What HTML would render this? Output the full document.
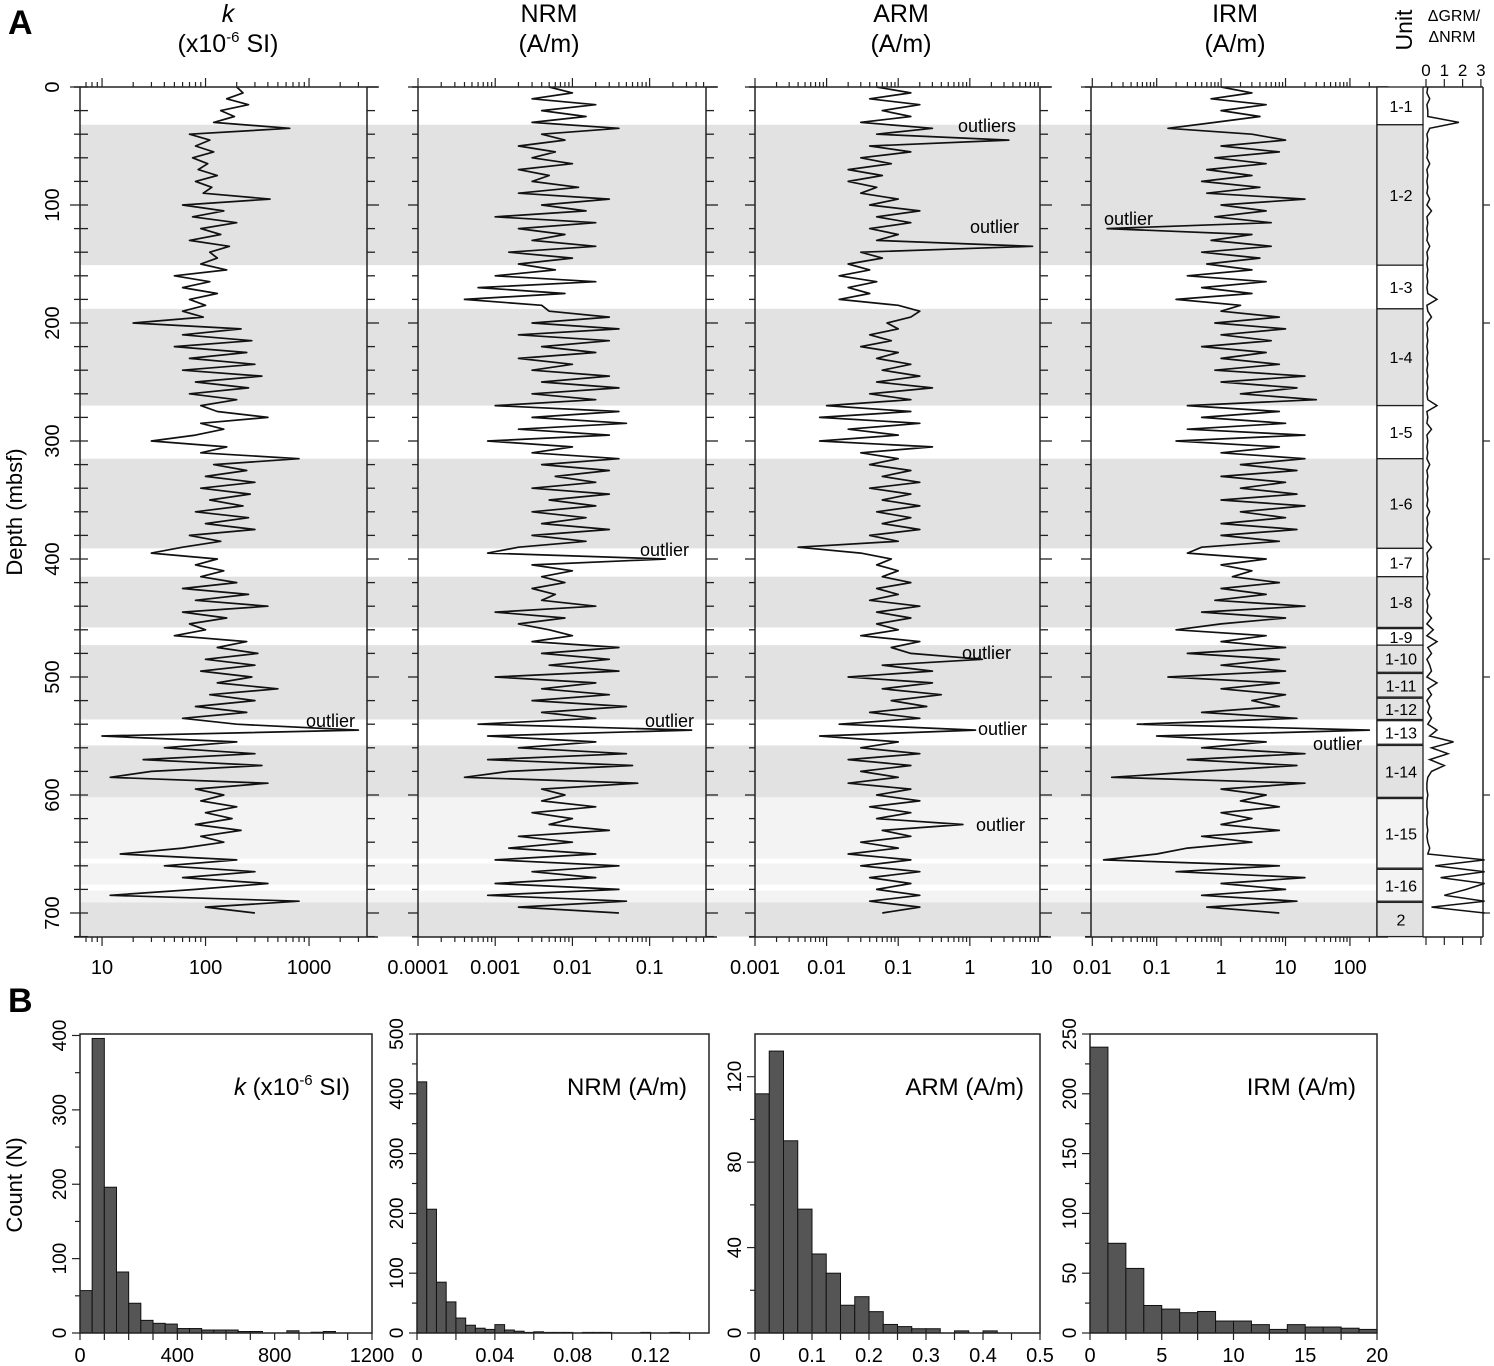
<!DOCTYPE html>
<html><head><meta charset="utf-8">
<style>
html,body{margin:0;padding:0;background:#fff;}
svg{display:block;font-family:"Liberation Sans",Arial,sans-serif;}
</style></head>
<body>
<svg id="fig" width="1494" height="1366" viewBox="0 0 1494 1366" xmlns="http://www.w3.org/2000/svg">
<g id="bands"></g>
<g id="logs"></g>
<g id="hists"></g>
<text x="8" y="34" font-size="34" font-weight="bold">A</text>
<text x="8" y="1012" font-size="34" font-weight="bold">B</text>
<text transform="translate(22,512) rotate(-90)" text-anchor="middle" font-size="22">Depth (mbsf)</text>
<text transform="translate(22,1185) rotate(-90)" text-anchor="middle" font-size="22">Count (N)</text>
<g font-size="25" text-anchor="middle">
<text x="228" y="22" font-style="italic">k</text>
<text x="228" y="52">(x10<tspan font-size="15" dy="-10">-6</tspan><tspan dy="10"> SI)</tspan></text>
<text x="549" y="22">NRM</text>
<text x="549" y="52">(A/m)</text>
<text x="901" y="22">ARM</text>
<text x="901" y="52">(A/m)</text>
<text x="1235" y="22">IRM</text>
<text x="1235" y="52">(A/m)</text>
</g>
<text transform="translate(1412,30) rotate(-90)" text-anchor="middle" font-size="23">Unit</text>
<text x="1454" y="21" text-anchor="middle" font-size="16">ΔGRM/</text>
<text x="1452" y="42" text-anchor="middle" font-size="16">ΔNRM</text>
</svg>
<script>
const NS='http://www.w3.org/2000/svg';
// depth grid (m) shared by all logs
const depths=[];for(let i=0;i<=140;i++)depths.push(i*5);
const kVals=[200,230,160,260,140,190,120,650,70,110,80,120,75,105,85,130,80,115,95,420,60,150,75,200,90,140,70,170,110,130,90,160,50,110,60,130,70,100,60,95,20,220,60,280,50,250,70,300,60,350,80,260,70,200,90,130,400,90,150,80,30,160,90,800,120,250,100,300,90,270,110,230,80,260,100,300,70,140,60,30,130,80,150,90,200,60,260,80,400,60,160,70,100,50,250,130,320,100,300,90,280,130,500,110,300,80,250,60,200,3000,10,200,40,300,25,350,30,12,400,80,150,90,200,100,180,80,220,90,150,60,15,200,40,300,60,400,80,12,800,100,300];
const nrmVals=[0.005,0.01,0.003,0.02,0.004,0.015,0.003,0.04,0.004,0.008,0.002,0.006,0.003,0.01,0.002,0.005,0.003,0.012,0.002,0.03,0.004,0.015,0.001,0.02,0.002,0.008,0.003,0.02,0.0015,0.01,0.002,0.006,0.001,0.02,0.0006,0.008,0.0004,0.004,0.005,0.03,0.003,0.04,0.002,0.03,0.004,0.02,0.002,0.01,0.003,0.03,0.004,0.04,0.003,0.02,0.001,0.04,0.003,0.05,0.002,0.03,0.0008,0.01,0.003,0.04,0.004,0.03,0.006,0.02,0.003,0.03,0.005,0.02,0.003,0.015,0.004,0.03,0.003,0.015,0.002,0.0008,0.16,0.003,0.01,0.004,0.008,0.003,0.006,0.004,0.02,0.001,0.008,0.002,0.005,0.01,0.003,0.04,0.004,0.03,0.005,0.04,0.001,0.02,0.004,0.03,0.003,0.05,0.004,0.02,0.0006,0.35,0.0008,0.02,0.002,0.05,0.0008,0.06,0.0015,0.0004,0.07,0.004,0.008,0.004,0.02,0.003,0.01,0.005,0.03,0.002,0.01,0.0015,0.02,0.001,0.04,0.003,0.02,0.001,0.04,0.0008,0.05,0.002,0.04];
const armVals=[0.05,0.15,0.04,0.2,0.06,0.15,0.03,0.3,0.05,3.5,0.04,0.15,0.03,0.08,0.02,0.06,0.02,0.05,0.03,0.1,0.04,0.2,0.05,0.15,0.04,0.1,0.05,7.5,0.03,0.06,0.02,0.04,0.015,0.05,0.02,0.04,0.015,0.1,0.2,0.15,0.07,0.1,0.04,0.08,0.03,0.1,0.05,0.15,0.06,0.2,0.05,0.3,0.04,0.15,0.01,0.15,0.008,0.2,0.02,0.1,0.008,0.3,0.03,0.1,0.04,0.15,0.06,0.2,0.04,0.15,0.06,0.2,0.05,0.15,0.06,0.2,0.04,0.1,0.004,0.03,0.08,0.05,0.1,0.06,0.15,0.05,0.1,0.04,0.2,0.05,0.15,0.05,0.1,0.03,0.2,0.08,0.15,1.5,0.06,0.3,0.02,0.3,0.06,0.4,0.08,0.25,0.04,0.2,0.015,1.2,0.008,0.1,0.03,0.2,0.02,0.15,0.03,0.1,0.02,0.15,0.05,0.2,0.04,0.15,0.05,0.8,0.06,0.15,0.03,0.1,0.02,0.15,0.03,0.2,0.04,0.15,0.05,0.2,0.04,0.2,0.06];
const irmVals=[1,3,0.7,5,1,4,0.8,0.15,3,10,1,8,0.8,5,0.6,3,0.5,4,0.6,20,1,5,0.8,6,0.017,3,0.7,6,0.5,4,0.6,3,0.3,5,0.5,3,0.2,2,1,8,0.8,10,1,6,0.5,5,1,8,0.8,20,1,15,2,30,0.3,8,0.5,10,0.3,20,0.2,8,1,20,2,15,1,10,2,15,1,20,2,10,1,15,1,8,0.5,0.3,5,1,3,1.5,8,1,5,0.8,20,0.5,10,1,0.2,5,1,10,0.3,8,1,10,0.15,8,1,10,3,8,0.5,15,0.05,200,0.1,5,0.5,20,0.3,15,0.5,0.02,20,1,5,2,8,1,3,1,8,0.5,3,0.3,0.1,0.015,8,0.2,20,1,10,0.5,15,0.6,8];
const grmVals=[0.1,0.05,0.2,0.05,0.1,0.1,1.8,0.2,0.05,0.1,0.05,0.1,0.05,0.2,0.05,0.1,0.05,0.1,0.05,0.2,0.05,0.3,0.05,0.1,0.05,0.1,0.05,0.2,0.05,0.1,0.05,0.1,0.05,0.1,0.05,0.1,0.6,0.05,0.1,0.3,0.05,0.1,0.05,0.1,0.05,0.1,0.05,0.1,0.05,0.1,0.05,0.1,0.05,0.1,0.6,0.05,0.1,0.05,0.3,0.05,0.1,0.05,0.1,0.05,0.2,0.05,0.1,0.05,0.1,0.05,0.1,0.05,0.2,0.05,0.1,0.05,0.1,0.05,0.3,0.05,0.1,0.05,0.1,0.05,0.1,0.05,0.2,0.05,0.1,0.05,0.3,0.05,0.4,0.05,0.6,0.1,0.3,0.05,0.2,0.3,0.05,0.6,0.1,0.3,0.05,0.2,0.1,0.3,0.1,0.6,0.2,1.5,0.3,1.2,0.2,1.0,0.3,0.1,0.05,0.05,0.1,0.05,0.05,0.1,0.05,0.05,0.1,0.05,0.1,0.2,0.1,3.2,0.5,3.2,0.8,3.2,2.2,1.0,3.2,0.3,3.2];
// unit shading bands (depth top, bottom, tone)
const bandTops=[32,188,315,415,473,558,602,658,681,691];
const bandBots=[151,270,391,458,536,602,654,676,691,720];
const bandTone=['d','d','d','d','d','d','l','l','l','d'];
// units
const unitNames=['1-1','1-2','1-3','1-4','1-5','1-6','1-7','1-8','1-9','1-10','1-11','1-12','1-13','1-14','1-15','1-16','2'];
const unitTops=[0,32,151,188,270,315,391,415,459,473,497,518,537,558,603,663,691];
const unitBots=[32,151,188,270,315,391,415,458,473,496,517,536,557,602,662,690,720];
const unitTone=['w','d','w','d','w','d','w','d','w','d','d','d','w','d','l','l','d'];
// histograms
const kBins=[57,396,196,82,40,17,13,12,6,6,4,4,4,2,2,0,0,3,0,1,2,0,0,0];
const nrmBins=[420,207,85,52,25,13,8,6,14,5,3,1,2,1,1,1,0,1,1,1,0,0,0,1,0,0,1,0,0,0];
const armBins=[112,132,90,58,37,28,13,17,10,4,3,2,2,0,1,0,1,0,0,0];
const irmBins=[239,75,54,23,20,17,18,10,10,7,3,7,5,5,4,3];
const kXTicks=['0','400','800','1200'];const nrmXTicks=['0','0.04','0.08','0.12'];
const armXTicks=['0','0.1','0.2','0.3','0.4','0.5'];const irmXTicks=['0','5','10','15','20'];

const svg=document.getElementById('fig');
function mk(tag,attrs,parent){const e=document.createElementNS(NS,tag);for(const k in attrs)e.setAttribute(k,attrs[k]);(parent||svg).appendChild(e);return e;}
const Y0=87,PPM=1.18;
function yD(d){return Y0+d*PPM;}
const YB=937;

const bandG=document.getElementById('bands');
for(let i=0;i<bandTops.length;i++){
  const r=mk('rect',{x:80,y:yD(bandTops[i]),width:1297,height:yD(bandBots[i])-yD(bandTops[i]),fill:bandTone[i]=='d'?'#e2e2e2':'#f3f3f3'},bandG);
  
  
}

const panels=[
 {id:'k',x0:80,x1:367,lmin:0.787,lmax:3.56,vals:kVals,labels:['10','100','1000'],labDec:[1,2,3]},
 {id:'nrm',x0:418,x1:706,lmin:-4,lmax:-0.27,vals:nrmVals,labels:['0.0001','0.001','0.01','0.1'],labDec:[-4,-3,-2,-1]},
 {id:'arm',x0:755,x1:1040,lmin:-3,lmax:0.98,vals:armVals,labels:['0.001','0.01','0.1','1','10'],labDec:[-3,-2,-1,0,1]},
 {id:'irm',x0:1091,x1:1377,lmin:-2.02,lmax:2.42,vals:irmVals,labels:['0.01','0.1','1','10','100'],labDec:[-2,-1,0,1,2]}
];
const logG=document.getElementById('logs');
panels.forEach(p=>{
  const g=mk('g',{},logG);
  
  
  const xs=v=>p.x0+(Math.log10(v)-p.lmin)/(p.lmax-p.lmin)*(p.x1-p.x0);
  const xl=l=>p.x0+(l-p.lmin)/(p.lmax-p.lmin)*(p.x1-p.x0);
  let dstr='';
  p.vals.forEach((v,i)=>{dstr+=(i?'L':'M')+xs(v).toFixed(1)+' '+yD(depths[i]).toFixed(1);});
  const line=mk('path',{d:dstr,fill:'none',stroke:'#111','stroke-width':1.7,'stroke-linejoin':'round'},g);
  
  
  mk('line',{x1:p.x0,y1:Y0,x2:p.x0,y2:YB,stroke:'#222','stroke-width':1.5},g);
  mk('line',{x1:p.x1,y1:Y0,x2:p.x1,y2:YB,stroke:'#222','stroke-width':1.5},g);
  mk('line',{x1:p.x0-6,y1:Y0,x2:p.x1+11,y2:Y0,stroke:'#222','stroke-width':1.5},g);
  mk('line',{x1:p.x0-6,y1:YB,x2:p.x1+11,y2:YB,stroke:'#222','stroke-width':1.5},g);
  for(let d=0;d<=720;d+=20){
    const y=yD(d),maj=d%100==0;
    mk('line',{x1:p.x0-(maj?10:6),y1:y,x2:p.x0+(p.id=='k'?8:0),y2:y,stroke:'#222','stroke-width':1.3},g);
    mk('line',{x1:p.x1,y1:y,x2:p.x1+(maj?12:8),y2:y,stroke:'#222','stroke-width':1.3},g);
  }
  for(let dec=Math.floor(p.lmin);dec<=Math.ceil(p.lmax);dec++){
    for(let m=1;m<10;m++){
      const l=dec+Math.log10(m);if(l<p.lmin-1e-6||l>p.lmax+1e-6)continue;
      const x=xl(l),len=m==1?9:5;
      mk('line',{x1:x,y1:Y0,x2:x,y2:Y0-len,stroke:'#222','stroke-width':1.2},g);
      mk('line',{x1:x,y1:YB,x2:x,y2:YB+len,stroke:'#222','stroke-width':1.2},g);
    }
  }
  p.labels.forEach((t,i)=>{
    const tx=mk('text',{x:xl(p.labDec[i]),y:974,'text-anchor':'middle','font-size':20},g);
    tx.textContent=t;
    
    
  });
});
for(let d=0;d<=700;d+=100){
  const t=mk('text',{transform:`translate(59,${yD(d)}) rotate(-90)`,'text-anchor':'middle','font-size':20},logG);
  t.textContent=String(d);
  
  
}
const notes=[[958,132,'outliers'],[970,233,'outlier'],[1104,225,'outlier'],[640,556,'outlier'],[306,727,'outlier'],[645,727,'outlier'],[962,659,'outlier'],[978,735,'outlier'],[1313,750,'outlier'],[976,831,'outlier']];
notes.forEach(n=>{
  const t=mk('text',{x:n[0],y:n[1],'font-size':18},logG);
  t.textContent=n[2];
  
  
});
const ug=mk('g',{},logG);


unitNames.forEach((u,i)=>{
  const y1=yD(unitTops[i]),y2=yD(unitBots[i]);
  const r=mk('rect',{x:1377,y:y1,width:46,height:y2-y1,fill:unitTone[i]=='d'?'#e2e2e2':unitTone[i]=='l'?'#f3f3f3':'#fff',stroke:'#222','stroke-width':1.3},ug);
  
  
  const t=mk('text',{x:1401,y:(y1+y2)/2+6,'text-anchor':'middle','font-size':16},ug);
  t.textContent=u;
  
  
});
const gg=mk('g',{},logG);


const gx=v=>1426+v*18.3;
mk('line',{x1:1423,y1:Y0,x2:1483,y2:Y0,stroke:'#222','stroke-width':1.5},gg);
mk('line',{x1:1483,y1:Y0,x2:1483,y2:YB,stroke:'#222','stroke-width':1.5},gg);
mk('line',{x1:1423,y1:YB,x2:1483,y2:YB,stroke:'#222','stroke-width':1.5},gg);
for(let v=0;v<=3;v++){
  mk('line',{x1:gx(v),y1:Y0,x2:gx(v),y2:Y0-8,stroke:'#222','stroke-width':1.2},gg);
  mk('line',{x1:gx(v),y1:YB,x2:gx(v),y2:YB+8,stroke:'#222','stroke-width':1.2},gg);
  const t=mk('text',{x:gx(v),y:76,'text-anchor':'middle','font-size':17},gg);
  t.textContent=String(v);
  
  
}
for(let d=100;d<=700;d+=100)mk('line',{x1:1483,y1:yD(d),x2:1490,y2:yD(d),stroke:'#222','stroke-width':1.2},gg);
let gd='';grmVals.forEach((v,i)=>{gd+=(i?'L':'M')+gx(v).toFixed(1)+' '+yD(depths[i]).toFixed(1);});
const gl=mk('path',{d:gd,fill:'none',stroke:'#111','stroke-width':1.5},gg);



const HT=1034,HB=1333;
const hists=[
 {id:'k',x0:80,x1:372,xmax:1200,bw:50,bins:kBins,ymax:402,yt:[0,100,200,300,400],xt:kXTicks,xtv:[0,400,800,1200]},
 {id:'nrm',x0:417,x1:709,xmax:0.15,bw:0.005,bins:nrmBins,ymax:500,yt:[0,100,200,300,400,500],xt:nrmXTicks,xtv:[0,0.04,0.08,0.12],minorx:0.02},
 {id:'arm',x0:755,x1:1040,xmax:0.5,bw:0.025,bins:armBins,ymax:140,yt:[0,40,80,120],xt:armXTicks,xtv:[0,0.1,0.2,0.3,0.4,0.5],minorx:0.05},
 {id:'irm',x0:1090,x1:1377,xmax:20,bw:1.25,bins:irmBins,ymax:250,yt:[0,50,100,150,200,250],xt:irmXTicks,xtv:[0,5,10,15,20],minorx:2.5}
];
const hg=document.getElementById('hists');
hists.forEach(h=>{
  const g=mk('g',{},hg);
  
  
  const xs=v=>h.x0+v/h.xmax*(h.x1-h.x0);
  const ys=v=>HB-v/h.ymax*(HB-HT);
  h.bins.forEach((c,i)=>{
    if(c<=0)return;
    const r=mk('rect',{x:xs(i*h.bw),y:ys(c),width:xs((i+1)*h.bw)-xs(i*h.bw),height:HB-ys(c),fill:'#555',stroke:'#111','stroke-width':1},g);
    
    
  });
  mk('rect',{x:h.x0,y:HT,width:h.x1-h.x0,height:HB-HT,fill:'none',stroke:'#222','stroke-width':1.5},g);
  for(let i=0;i<h.yt.length;i++){
    const v=h.yt[i];const y=ys(v);
    mk('line',{x1:h.x0-8,y1:y,x2:h.x0,y2:y,stroke:'#222','stroke-width':1.2},g);
    if(i<h.yt.length-1){const ym=ys((v+h.yt[i+1])/2);mk('line',{x1:h.x0-5,y1:ym,x2:h.x0,y2:ym,stroke:'#222','stroke-width':1.2},g);}
    const t=mk('text',{transform:`translate(${h.x0-14},${y}) rotate(-90)`,'text-anchor':'middle','font-size':19},g);
    t.textContent=String(v);
    
    
  }
  const step=h.minorx||(h.xtv[1]-h.xtv[0])/4;
  for(let v=0;v<=h.xmax+1e-9;v+=step){
    const x=xs(v);mk('line',{x1:x,y1:HB,x2:x,y2:HB+7,stroke:'#222','stroke-width':1.2},g);
  }
  h.xt.forEach((t,i)=>{
    const tx=mk('text',{x:xs(h.xtv[i]),y:1362,'text-anchor':'middle','font-size':20},g);
    tx.textContent=t;
    
    
  });
});
const ht=[[350,'k'],[687,'NRM (A/m)'],[1024,'ARM (A/m)'],[1356,'IRM (A/m)']];
ht.forEach((a,i)=>{
  const t=mk('text',{x:a[0],y:1095,'text-anchor':'end','font-size':24},hg);
  if(i==0){t.innerHTML='<tspan font-style="italic">k</tspan> (x10<tspan font-size="15" dy="-10">-6</tspan><tspan dy="10"> SI)</tspan>';}
  else t.textContent=a[1];
  
  
});
</script>
</body></html>
